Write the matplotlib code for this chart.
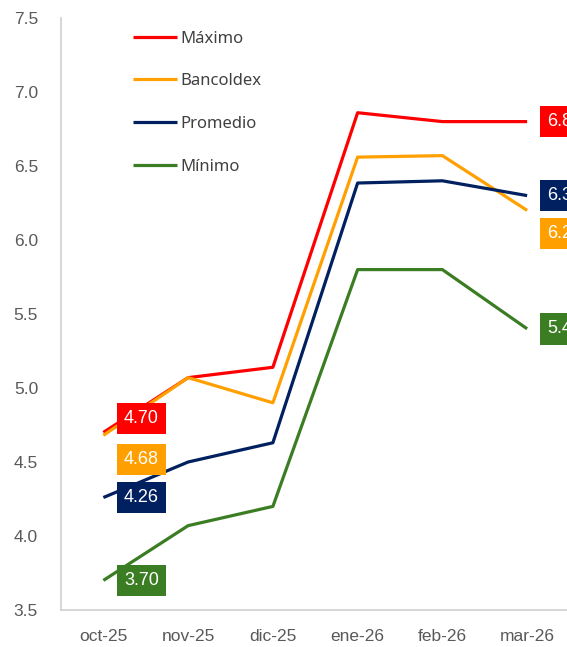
import matplotlib.pyplot as plt
import numpy as np

months = ["oct-25", "nov-25", "dic-25", "ene-26", "feb-26", "mar-26"]
maximo = [4.70, 5.07, 5.14, 6.86, 6.80, 6.80]
bancoldex = [4.68, 5.07, 4.90, 6.56, 6.57, 6.20]
promedio = [4.26, 4.50, 4.63, 6.385, 6.40, 6.30]
minimo = [3.70, 4.07, 4.20, 5.80, 5.80, 5.40]
y_ticks = [3.5, 4.0, 4.5, 5.0, 5.5, 6.0, 6.5, 7.0, 7.5]

series = [
    ("Máximo", maximo, "#FF0000", (14, 0)),
    ("Bancoldex", bancoldex, "#FFA000", (-24, -23)),
    ("Promedio", promedio, "#002060", (0, 0)),
    ("Mínimo", minimo, "#3B7D23", (0, 0)),
]

W, H = 567, 647
fig = plt.figure(figsize=(W / 100, H / 100), dpi=100)
left, right, top, bottom = 61, 569.5, 18, 610
ax = fig.add_axes([left / W, 1 - bottom / H, (right - left) / W, (bottom - top) / H])

x = np.arange(len(months))
for name, vals, color, (dy_first, dy_last) in series:
    ax.plot(x, vals, color=color, lw=2.3, label=name, solid_capstyle="butt")
    # data labels at the first and last month
    for i, dy in ((0, dy_first), (len(vals) - 1, dy_last)):
        ax.annotate(f"{vals[i]:.2f}", (x[i], vals[i]), xytext=(38, dy),
                    textcoords="offset pixels", ha="center", va="center",
                    color="white", fontsize=13, family="Liberation Sans",
                    bbox=dict(boxstyle="square,pad=0.4", fc=color, ec="none"),
                    annotation_clip=False, zorder=5)

ax.set_xlim(-0.5, len(months) - 0.5)
ax.set_ylim(3.5, 7.5)
ax.set_xticks(x, months)
ax.set_yticks(y_ticks, [f"{v:.1f}" for v in y_ticks])
ax.tick_params(axis="both", length=0, colors="#595959", labelsize=12.5)
ax.tick_params(axis="y", pad=16.5)
ax.tick_params(axis="x", pad=14)
for lbl in ax.get_xticklabels() + ax.get_yticklabels():
    lbl.set_family("Liberation Sans")

for s in ("top", "right"):
    ax.spines[s].set_visible(False)
for s in ("left", "bottom"):
    ax.spines[s].set_color("#D0D0D0")
    ax.spines[s].set_linewidth(1.2)

leg = ax.legend(loc="upper left", bbox_to_anchor=(0.112, 1.004), frameon=False,
                handlelength=2.65, handletextpad=0.22, labelspacing=1.6,
                prop={"family": "Noto Sans", "size": 12})
for t in leg.get_texts():
    t.set_color("#404040")

fig.savefig("out.png", dpi=100)
